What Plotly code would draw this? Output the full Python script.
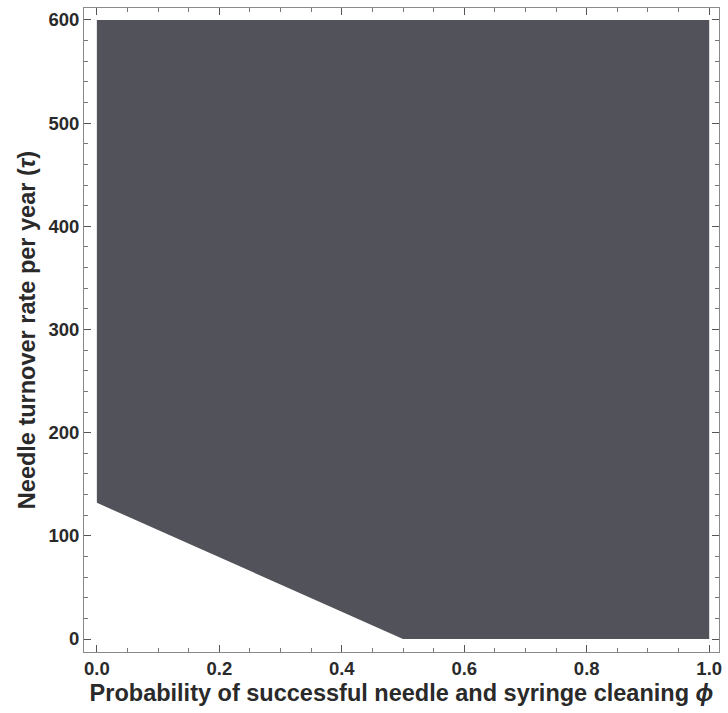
import plotly.graph_objects as go

# Region boundary (phi, tau)
phi_boundary = [0.0, 0.5, 1.0, 1.0, 0.0, 0.0]
tau_boundary = [132, 0, 0, 600, 600, 132]

x_tick_vals = [0.0, 0.2, 0.4, 0.6, 0.8, 1.0]
x_tick_text = ["0.0", "0.2", "0.4", "0.6", "0.8", "1.0"]
y_tick_vals = [0, 100, 200, 300, 400, 500, 600]
y_tick_text = ["0", "100", "200", "300", "400", "500", "600"]

fill_color = "rgb(82,82,90)"
font_family = "Liberation Sans, Arial, sans-serif"

fig = go.Figure()
fig.add_trace(go.Scatter(
    x=phi_boundary, y=tau_boundary, mode="lines", fill="toself",
    fillcolor=fill_color, line=dict(width=0, color=fill_color),
    hoverinfo="skip", showlegend=False,
))

axis_common = dict(
    showgrid=False, zeroline=False, showline=True, linecolor="#8a8a8a",
    linewidth=1, mirror="allticks", ticks="inside", ticklen=7,
    tickcolor="#555", tickwidth=1,
    tickfont=dict(family=font_family, size=18.5, color="#2a2a2a", weight="bold"),
)

fig.update_xaxes(
    range=[-0.021, 1.016], tickvals=x_tick_vals, ticktext=x_tick_text,
    minor=dict(dtick=0.05, ticks="inside", ticklen=4, tickcolor="#777", showgrid=False),
    title=dict(text="Probability of successful needle and syringe cleaning <i>ϕ</i>",
               font=dict(family=font_family, size=23.5, color="#2a2a2a", weight="bold"),
               standoff=6),
    **axis_common,
)
fig.update_yaxes(
    range=[-12.6, 611.6], tickvals=y_tick_vals, ticktext=y_tick_text,
    minor=dict(dtick=20, ticks="inside", ticklen=4, tickcolor="#777", showgrid=False),
    title=dict(text="Needle turnover rate per year (<i>τ</i>)",
               font=dict(family=font_family, size=23.5, color="#2a2a2a", weight="bold"),
               standoff=6),
    **axis_common,
)

fig.update_layout(
    width=728, height=713,
    margin=dict(l=84, r=6, t=8, b=61),
    plot_bgcolor="white", paper_bgcolor="white",
)

fig.write_html("out.html")
